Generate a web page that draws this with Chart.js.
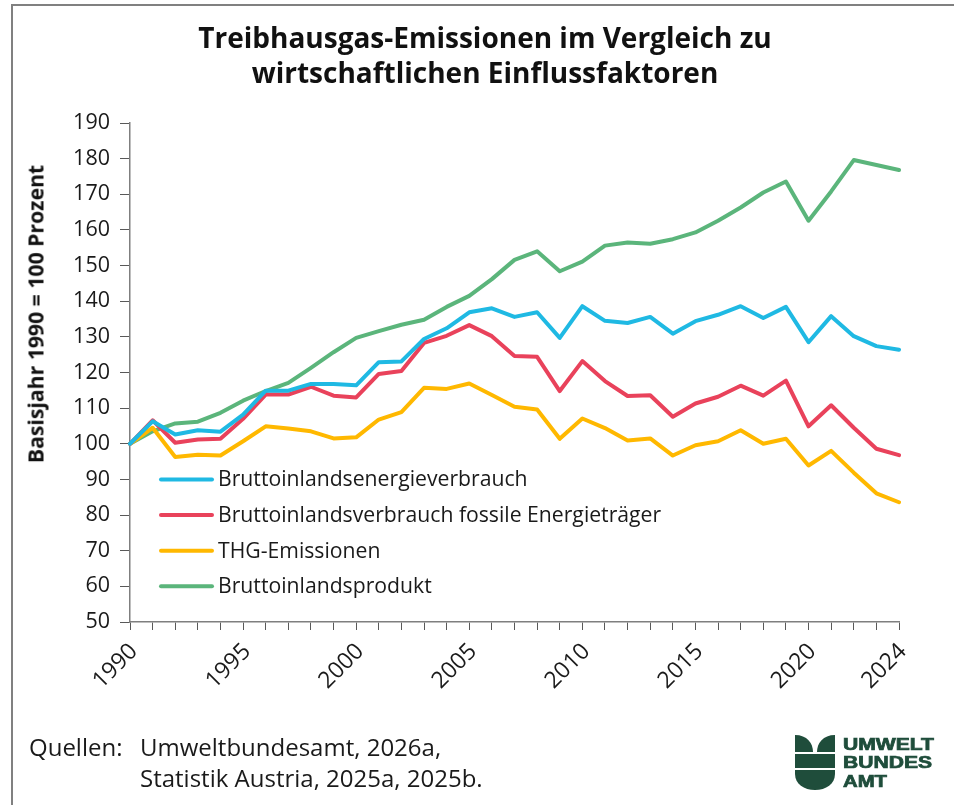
<!DOCTYPE html>
<html lang="de">
<head>
<meta charset="utf-8">
<title>Treibhausgas-Emissionen im Vergleich zu wirtschaftlichen Einflussfaktoren</title>
<script src="https://cdn.jsdelivr.net/npm/chart.js@4.4.1/dist/chart.umd.min.js"></script>
<style>
  html, body { margin: 0; padding: 0; background: #fff; }
  body { width: 954px; height: 805px; overflow: hidden; font-family: "Open Sans", sans-serif; color: #1a1a1a; }
  #wrap { position: relative; width: 954px; height: 805px; }
  #frame { position: absolute; left: 11px; top: 4px; right: -4px; bottom: -4px; border-left: 2px solid #808080; border-top: 2px solid #808080; }
  #chart { position: absolute; left: 0; top: 0; }
  #title { position: absolute; left: 0; width: 970px; top: 20px; text-align: center; font-weight: 700; font-size: 28px; line-height: 35px; color: #111; }
  #ytitle { position: absolute; left: 35px; top: 314px; transform: translate(-50%, -50%) rotate(-90deg); white-space: nowrap; font-weight: 700; font-size: 21.2px; color: #111; }
  .src { position: absolute; font-size: 24px; line-height: 32px; white-space: nowrap; color: #1a1a1a; }
  #logo { position: absolute; left: 790px; top: 730px; }
</style>
</head>
<body>
<div id="wrap">
  <div id="frame"></div>
  <canvas id="chart" width="954" height="805"></canvas>
  <div id="title">Treibhausgas-Emissionen im Vergleich zu<br>wirtschaftlichen Einflussfaktoren</div>
  <div id="ytitle">Basisjahr 1990 = 100 Prozent</div>
  <div class="src" style="left:29px; top:731px;">Quellen:</div>
  <div class="src" style="left:140px; top:731px;">Umweltbundesamt, 2026a,</div>
  <div class="src" style="left:140px; top:762px;">Statistik Austria, 2025a, 2025b.</div>
  <svg id="logo" width="150" height="65" viewBox="0 0 150 65">
    <g fill="#1f4d3b" stroke="#1f4d3b">
      <path stroke="none" d="M5 5 C17 5 23 13 23 22 L5 22 Z"/>
      <path stroke="none" d="M45 5 C33 5 27 13 27 22 L45 22 Z"/>
      <rect stroke="none" x="5" y="24" width="40" height="14"/>
      <path stroke="none" d="M5 40 L45 40 L45 44 C45 54 36 60 25 60 C14 60 5 54 5 44 Z"/>
      <text x="53" y="19.5" stroke-width="0.7" font-family="Liberation Sans, Arial, sans-serif" font-weight="700" font-size="16" textLength="91" lengthAdjust="spacingAndGlyphs">UMWELT</text>
      <text x="53" y="38" stroke-width="0.7" font-family="Liberation Sans, Arial, sans-serif" font-weight="700" font-size="16" textLength="89" lengthAdjust="spacingAndGlyphs">BUNDES</text>
      <text x="53" y="56.5" stroke-width="0.7" font-family="Liberation Sans, Arial, sans-serif" font-weight="700" font-size="16" textLength="44" lengthAdjust="spacingAndGlyphs">AMT</text>
    </g>
  </svg>
</div>
<script>
// data (index 1990 = 100)
const years = ['1990','1991','1992','1993','1994','1995','1996','1997','1998','1999',
  '2000','2001','2002','2003','2004','2005','2006','2007','2008','2009',
  '2010','2011','2012','2013','2014','2015','2016','2017','2018','2019',
  '2020','2021','2022','2023','2024'];
const yearLabels = ['1990','1995','2000','2005','2010','2015','2020','2024'];

const energieverbrauch = [100, 106.3, 102.6, 103.8, 103.4, 108.2, 114.9, 114.9, 116.8, 116.8,
  116.4, 122.9, 123.1, 129.4, 132.4, 136.9, 138.0, 135.6, 136.9, 129.7,
  138.6, 134.5, 133.9, 135.6, 130.9, 134.4, 136.2, 138.6, 135.3, 138.4,
  128.5, 135.8, 130.2, 127.4, 126.4];
const fossile = [100, 106.6, 100.3, 101.2, 101.4, 107.0, 113.8, 113.8, 116.0, 113.5,
  113.0, 119.6, 120.4, 128.3, 130.3, 133.3, 130.2, 124.6, 124.4, 114.8,
  123.2, 117.6, 113.4, 113.6, 107.6, 111.3, 113.2, 116.3, 113.5, 117.7,
  104.9, 110.8, 104.5, 98.6, 96.8];
const thg = [100, 104.5, 96.3, 96.9, 96.7, 100.7, 104.9, 104.3, 103.5, 101.5,
  101.8, 106.8, 108.9, 115.7, 115.4, 116.9, 113.7, 110.4, 109.6, 101.4,
  107.1, 104.4, 100.9, 101.5, 96.7, 99.6, 100.7, 103.8, 100.0, 101.4,
  93.9, 98.0, 91.9, 86.1, 83.6];
const bip = [100, 103.5, 105.7, 106.2, 108.7, 112.1, 114.8, 117.1, 121.3, 125.7,
  129.7, 131.6, 133.4, 134.8, 138.4, 141.5, 146.2, 151.6, 154.0, 148.4,
  151.1, 155.6, 156.5, 156.1, 157.4, 159.3, 162.6, 166.3, 170.5, 173.6,
  162.6, 170.8, 179.6, 178.2, 176.8];

const seriesNames = ['Bruttoinlandsenergieverbrauch', 'Bruttoinlandsverbrauch fossile Energieträger', 'THG-Emissionen', 'Bruttoinlandsprodukt'];
const seriesColors = ['#1fb9e3', '#e9425b', '#ffb800', '#5bb57b'];
const seriesData = [energieverbrauch, fossile, thg, bip];

// legend sits inside the plot area, drawn by hand
const innerLegend = {
  id: 'innerLegend',
  afterDraw(chart){
    const ctx = chart.ctx;
    const yScale = chart.scales.y;
    ctx.save();
    ctx.font = '21.2px "Open Sans"';
    ctx.textBaseline = 'middle';
    seriesNames.forEach((name, i) => {
      const y = yScale.getPixelForValue(90 - i * 10);
      ctx.strokeStyle = seriesColors[i];
      ctx.lineWidth = 4;
      ctx.lineCap = 'round';
      ctx.beginPath();
      ctx.moveTo(161, y);
      ctx.lineTo(212, y);
      ctx.stroke();
      ctx.fillStyle = '#1a1a1a';
      ctx.fillText(name, 218, y + 1);
    });
    ctx.restore();
  }
};

const ctx = document.getElementById('chart').getContext('2d');
new Chart(ctx, {
  type: 'line',
  data: {
    labels: years,
    datasets: seriesNames.map((name, i) => ({
      label: name,
      data: seriesData[i],
      borderColor: seriesColors[i],
      backgroundColor: seriesColors[i],
      borderWidth: 4,
      pointRadius: 0,
      tension: 0,
      borderJoinStyle: 'round',
      borderCapStyle: 'round'
    }))
  },
  options: {
    responsive: false,
    animation: false,
    devicePixelRatio: 1,
    layout: { padding: { left: 0, right: 55, top: 123, bottom: 83 } },
    plugins: {
      legend: { display: false },
      tooltip: { enabled: false }
    },
    scales: {
      x: {
        type: 'category',
        offset: false,
        afterFit(scale){ scale.height = 100; },
        grid: { drawOnChartArea: false, drawTicks: true, tickLength: 8, color: '#595959', lineWidth: 1 },
        border: { display: true, color: '#7f7f7f', width: 1.5 },
        ticks: {
          autoSkip: false,
          maxRotation: 45,
          minRotation: 45,
          padding: 8,
          labelOffset: 4,
          color: '#1a1a1a',
          font: { family: 'Open Sans', size: 23 },
          callback(value){
            const l = this.getLabelForValue(value);
            return yearLabels.includes(l) ? l : '';
          }
        }
      },
      y: {
        min: 50,
        max: 190,
        afterFit(scale){ scale.width = 130; },
        grid: { drawOnChartArea: false, drawTicks: true, tickLength: 10, color: '#595959', lineWidth: 1 },
        border: { display: true, color: '#7f7f7f', width: 1.5 },
        ticks: {
          stepSize: 10,
          padding: 10,
          color: '#1a1a1a',
          font: { family: 'Open Sans', size: 21.5 }
        }
      }
    }
  },
  plugins: [innerLegend]
});
</script>
</body>
</html>
